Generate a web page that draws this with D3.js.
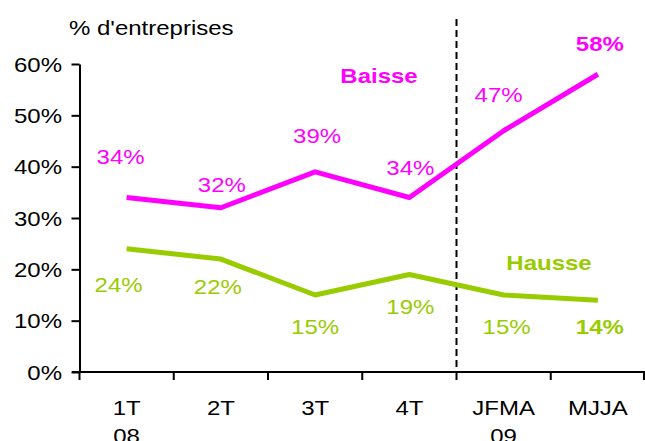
<!DOCTYPE html>
<html>
<head>
<meta charset="utf-8">
<script src="https://cdn.jsdelivr.net/npm/d3@7"></script>
<style>
  body { margin: 0; background: #fff; }
  svg { display: block; font-family: "Liberation Sans", Arial, sans-serif; }
</style>
</head>
<body>
<svg id="chart" width="645" height="441"></svg>
<script>
// data
var categories = ['1T', '2T', '3T', '4T', 'JFMA', 'MJJA'];
var subLabels = ['08', '', '', '', '09', ''];
var baisse = [34, 32, 39, 34, 47, 58];
var hausse = [24, 22, 15, 19, 15, 14];
var yTicks = [0, 10, 20, 30, 40, 50, 60];

// label nudges (layout, px) - labels were placed by hand in the original
var baisseDx = [-6, 1, 2, 1, -5, 2];
var baisseDy = [-33, -16, -29, -22, -29, -23];
var hausseDx = [-8, -3, 0, 1, 3, 2];
var hausseDy = [43, 35, 39, 40, 39, 34];

var magenta = '#ff00ff', green = '#99cc00';
var SX = 1.2; // the original text is drawn a bit wide

var svg = d3.select('#chart');
var x = d3.scaleBand().domain(categories).range([79.5, 645]).padding(0);
var y = d3.scaleLinear().domain([0, 60]).range([372, 64]);
var cx = function(c){ return x(c) + x.bandwidth()/2; };

// wide text helper
function wtext(parent, tx, ty, str){
	return parent.append('text')
		.attr('transform', 'translate(' + tx + ',' + ty + ') scale(' + SX + ',1)')
		.attr('font-size', 20)
		.text(str);
}

// title
wtext(svg, 69, 35, "% d'entreprises");

// y axis
var yAxis = d3.axisLeft(y)
	.tickValues(yTicks)
	.tickSize(8)
	.tickSizeOuter(0)
	.tickFormat(function(d){ return d + '%'; });
var gy = svg.append('g').attr('transform', 'translate(79.5,0)').call(yAxis);
gy.select('.domain').attr('stroke-width', 2);
gy.selectAll('.tick line').attr('stroke-width', 2);
gy.selectAll('.tick text')
	.attr('font-size', 20)
	.attr('font-family', '"Liberation Sans", Arial, sans-serif')
	.attr('fill', '#000')
	.attr('x', -17.5 / SX)
	.attr('dy', '0.36em')
	.attr('transform', 'scale(' + SX + ',1)');

// x axis line + ticks at band edges
svg.append('line')
	.attr('x1', 72).attr('x2', 645)
	.attr('y1', y(0)).attr('y2', y(0))
	.attr('stroke', '#000').attr('stroke-width', 2);
var edges = categories.map(function(c){ return x(c); }).concat([x.range()[1] - 1]);
svg.append('g').selectAll('line').data(edges).enter().append('line')
	.attr('x1', function(d){ return d; }).attr('x2', function(d){ return d; })
	.attr('y1', y(0)).attr('y2', y(0) + 8)
	.attr('stroke', '#000').attr('stroke-width', 2);

// x labels
var xl = svg.append('g').attr('text-anchor', 'middle');
categories.forEach(function(c, i){
	wtext(xl, cx(c), 415, c);
	if (subLabels[i]) wtext(xl, cx(c), 443, subLabels[i]);
});

// dashed separator between 4T and JFMA
svg.append('line')
	.attr('x1', x('JFMA')).attr('x2', x('JFMA'))
	.attr('y1', 19).attr('y2', y(0))
	.attr('stroke', '#000').attr('stroke-width', 2)
	.attr('stroke-dasharray', '7,4');

// lines
var line = d3.line()
	.x(function(d, i){ return cx(categories[i]); })
	.y(function(d){ return y(d); });

svg.append('path').datum(baisse)
	.attr('d', line).attr('fill', 'none')
	.attr('stroke', magenta).attr('stroke-width', 5)
	.attr('stroke-linejoin', 'round');
svg.append('path').datum(hausse)
	.attr('d', line).attr('fill', 'none')
	.attr('stroke', green).attr('stroke-width', 5)
	.attr('stroke-linejoin', 'round');

// value labels
function labels(data, color, dxs, dys){
	var last = data.length - 1;
	var g = svg.append('g').attr('text-anchor', 'middle').attr('fill', color);
	data.forEach(function(d, i){
		wtext(g, cx(categories[i]) + dxs[i], y(d) + dys[i], d + '%')
			.attr('font-weight', i === last ? 'bold' : 'normal');
	});
}
labels(baisse, magenta, baisseDx, baisseDy);
labels(hausse, green, hausseDx, hausseDy);

// series names
wtext(svg, 379, 83, 'Baisse')
	.attr('text-anchor', 'middle').attr('font-weight', 'bold').attr('fill', magenta);
wtext(svg, 549, 270, 'Hausse')
	.attr('text-anchor', 'middle').attr('font-weight', 'bold').attr('fill', green);
</script>
</body>
</html>
